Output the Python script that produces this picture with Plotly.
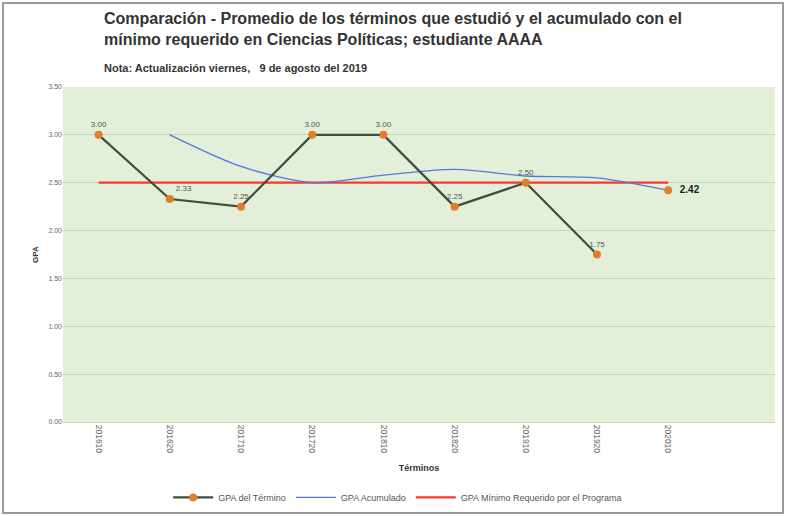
import plotly.graph_objects as go

# Academic terms and GPA values
terminos = ["201610", "201620", "201710", "201720", "201810",
            "201820", "201910", "201920", "202010"]
gpa_termino = [3.00, 2.33, 2.25, 3.00, 3.00, 2.25, 2.50, 1.75, None]
gpa_acumulado = [None, 3.00, 2.67, 2.50, 2.58, 2.64, 2.57, 2.55, 2.42]
gpa_minimo = [2.50] * 9

xs = list(range(len(terminos)))

fig = go.Figure()

fig.add_trace(go.Scatter(
    x=xs, y=gpa_minimo, mode="lines", name="GPA Mínimo Requerido por el Programa",
    line=dict(color="#f53b2f", width=2.2), hoverinfo="skip"))

fig.add_trace(go.Scatter(
    x=xs, y=gpa_acumulado, mode="lines", name="GPA Acumulado",
    line=dict(color="#5578e0", width=1.3, shape="spline", smoothing=0.8)))

lbl = [f"{v:.2f}" if v is not None else "" for v in gpa_termino]
fig.add_trace(go.Scatter(
    x=xs, y=gpa_termino, mode="lines+markers+text", name="GPA del Término",
    line=dict(color="#3f4d3a", width=2.2),
    marker=dict(color="#e07e2c", size=8),
    text=lbl, textposition=["top center", "top right", "top center", "top center",
                            "top center", "top center", "top center", "top center",
                            "top center"],
    textfont=dict(size=8, color="#555555", family="Liberation Sans"),
    cliponaxis=False))

# final cumulative GPA highlighted
fig.add_trace(go.Scatter(
    x=[xs[-1]], y=[gpa_acumulado[-1]], mode="markers+text",
    marker=dict(color="#e07e2c", size=8),
    text=[f"  <b>{gpa_acumulado[-1]:.2f}</b>"], textposition="middle right",
    textfont=dict(size=10, color="#222222", family="Liberation Sans"),
    showlegend=False, cliponaxis=False))

fig.update_layout(
    width=786, height=516,
    margin=dict(l=63, r=11, t=87, b=94, autoexpand=False),
    paper_bgcolor="white", plot_bgcolor="#e3efd9",
    font=dict(family="Liberation Sans", color="#333333"),
    showlegend=True,
    legend=dict(orientation="h", x=0.47, xanchor="center", y=-0.225, yanchor="middle",
                font=dict(size=9, color="#555555"), traceorder="reversed",
                itemwidth=40, bgcolor="rgba(0,0,0,0)"),
    annotations=[
        dict(text="<b>Comparación - Promedio de los términos que estudió y el acumulado con el<br>mínimo requerido en Ciencias Políticas; estudiante AAAA</b>",
             xref="paper", yref="paper", x=(102 - 63) / 712, y=1 + (87 - 8) / 335,
             xanchor="left", yanchor="top", align="left", showarrow=False,
             font=dict(size=16, color="#333333")),
        dict(text="<b>Nota: Actualización viernes,   9 de agosto del 2019</b>",
             xref="paper", yref="paper", x=(102 - 63) / 712, y=1 + (87 - 60) / 335,
             xanchor="left", yanchor="top", align="left", showarrow=False,
             font=dict(size=11, color="#333333")),
    ],
    shapes=[dict(type="rect", xref="paper", yref="paper",
                 x0=-60 / 712, x1=1 + 8 / 712, y0=-91 / 335, y1=1 + 84 / 335,
                 line=dict(color="#9a9a9a", width=2))],
)

fig.update_xaxes(
    range=[-0.5, 9.5], tickmode="array", tickvals=xs, ticktext=terminos,
    tickangle=90, tickfont=dict(size=8.5, color="#666666"), automargin=False,
    showgrid=False, zeroline=False, showline=True, linecolor="#c8d8bd",
    title=dict(text="<b>Términos</b>", font=dict(size=9, color="#333333"), standoff=12))

fig.update_yaxes(
    range=[0, 3.5], dtick=0.5, tickformat=".2f", automargin=False,
    tickfont=dict(size=7, color="#666666"),
    gridcolor="#c5d3bd", gridwidth=1, zeroline=False,
    title=dict(text="<b>GPA</b>", font=dict(size=8, color="#333333"), standoff=8))

fig.write_html("out.html")
